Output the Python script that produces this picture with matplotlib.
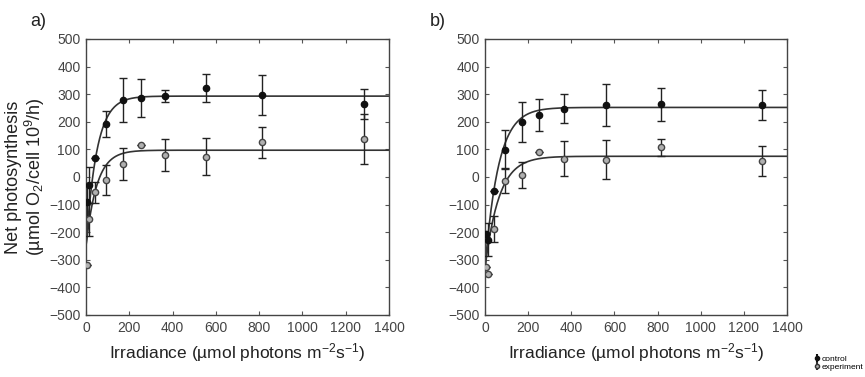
import numpy as np
import matplotlib.pyplot as plt

plt.rcParams['font.family'] = ['Liberation Sans', 'DejaVu Sans']
plt.rcParams['mathtext.default'] = 'regular'

# irradiance levels (umol photons m-2 s-1)
irr = [6, 14, 43, 92, 172, 252, 365, 555, 812, 1283]

# panel a
ctrl_a = [-90, -28, 70, 192, 278, 286, 294, 322, 296, 264]
ctrl_a_err = [60, 65, 0, 47, 80, 68, 22, 50, 73, 55]
exp_a = [-320, -153, -55, -12, 47, 115, 79, 74, 125, 138]
exp_a_err = [0, 60, 38, 55, 57, 0, 57, 68, 55, 92]

# panel b
irr_b = [5, 14, 42, 91, 170, 252, 365, 559, 817, 1285]
ctrl_b = [-205, -228, -50, 99, 198, 225, 247, 261, 264, 262]
ctrl_b_err = [0, 60, 0, 70, 72, 57, 52, 77, 60, 54]
exp_b = [-325, -350, -188, -13, 7, 89, 66, 62, 107, 58]
exp_b_err = [0, 0, 48, 44, 47, 0, 63, 71, 32, 54]

# fitted P-I curves: P = Pmax - (Pmax - P0) * exp(-I / k)
fit_a = {'control': (293, -250, 50), 'experiment': (97, -250, 50)}
fit_b = {'control': (252, -330, 62), 'experiment': (75, -330, 65)}

fig = plt.figure(figsize=(8.65, 3.77), dpi=100)
ax1 = fig.add_axes([0.0994, 0.1645, 0.3503, 0.7321])
ax2 = fig.add_axes([0.5607, 0.1645, 0.3491, 0.7321])

line_col = '#333333'


def draw(ax, x, c, ce, e, ee, fit):
    xs = np.linspace(0, 1400, 600)
    for key in ['control', 'experiment']:
        pm, p0, k = fit[key]
        ax.plot(xs, pm - (pm - p0) * np.exp(-xs / k), color=line_col, lw=1.2, zorder=2)
    ax.errorbar(x, c, yerr=ce, fmt='o', ms=4.5, color='#111111', mfc='#111111',
                ecolor='#222222', elinewidth=1, capsize=3, capthick=1, zorder=3)
    ax.errorbar(x, e, yerr=ee, fmt='o', ms=4.5, color='#333333', mfc='#b0b0b0',
                mec='#444444', ecolor='#222222', elinewidth=1, capsize=3, capthick=1, zorder=3)
    ax.set_xlim(0, 1400)
    ax.set_ylim(-500, 500)
    ax.set_xticks(range(0, 1401, 200))
    ax.set_yticks(range(-500, 501, 100))
    ax.tick_params(direction='in', length=3, width=0.8, color='#555555', pad=4,
                   labelsize=10, labelcolor='#444444', top=True, right=True)
    for s in ax.spines.values():
        s.set_color('#444444')
        s.set_linewidth(1.0)
    ax.set_xlabel('Irradiance (µmol photons m$^{-2}$s$^{-1}$)', fontsize=12.5,
                  color='#222222', labelpad=5)


draw(ax1, irr, ctrl_a, ctrl_a_err, exp_a, exp_a_err, fit_a)
draw(ax2, irr_b, ctrl_b, ctrl_b_err, exp_b, exp_b_err, fit_b)

ax1.set_ylabel('Net photosynthesis\n(µmol O$_2$/cell 10$^9$/h)', fontsize=13,
               color='#222222', linespacing=1.0)
ax1.yaxis.set_label_coords(-0.13, 0.5)

fig.text(0.035, 0.93, 'a)', fontsize=13, color='#222222')
fig.text(0.497, 0.93, 'b)', fontsize=13, color='#222222')

# small legend bottom right
h1 = ax2.errorbar([], [], yerr=[], fmt='o', ms=3, color='#111111', capsize=2)
h2 = ax2.errorbar([], [], yerr=[], fmt='o', ms=3, color='#333333', mfc='#aaaaaa', capsize=2)
fig.legend([h1, h2], ['control', 'experiment'], loc='lower right',
           bbox_to_anchor=(1.005, 0.0), fontsize=6, frameon=False,
           handlelength=0.8, handletextpad=0.2, labelspacing=0.05, borderpad=0.2)

fig.savefig('out.png', dpi=100)
